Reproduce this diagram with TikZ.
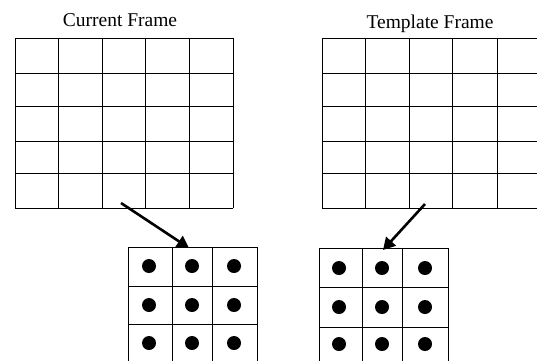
\documentclass[tikz,border=0pt]{standalone}
\usepackage{fontspec}
\setmainfont{Liberation Serif}
\usetikzlibrary{arrows.meta}
\begin{document}
\begin{tikzpicture}[x=1pt,y=-1pt,
  gridline/.style={line width=1pt,black},
  dot/.style={circle,fill=black,inner sep=0pt,minimum size=14pt},
  title/.style={font=\fontsize{19.5}{21}\selectfont,inner sep=0pt},
  pointer/.style={line width=2.6pt,-{Triangle[length=12pt,width=13pt]}}]
\useasboundingbox (0,0) rectangle (537,360);
\clip (0,0) rectangle (537,360);
\fill[white] (0,0) rectangle (537,360);
% titles
\node[title] (t1) at (120,20) {Current Frame};
\node[title] (t2) at (430,24) {Template Frame};
% big left grid
\foreach \x in {15,58,102,145,189,233} \draw[gridline] (\x,38) -- (\x,208);
\foreach \y in {38,73,106,141,173,208} \draw[gridline] (15,\y) -- (233,\y);
% big right grid
\foreach \x in {322,365,409,452,497,540} \draw[gridline] (\x,38) -- (\x,208);
\foreach \y in {38,73,106,141,173,208} \draw[gridline] (322,\y) -- (540,\y);
% small left grid
\foreach \x in {128,172,212,257} \draw[gridline] (\x,247) -- (\x,365);
\foreach \y in {247,286,324,363} \draw[gridline] (128,\y) -- (257,\y);
\foreach \x [count=\i] in {149,192,234}
  \foreach \y [count=\j] in {266,305,343}
    \node[dot] (a\i\j) at (\x,\y) {};
% small right grid
\foreach \x in {319,362,402,448} \draw[gridline] (\x,248) -- (\x,365);
\foreach \y in {248,287,327,366} \draw[gridline] (319,\y) -- (448,\y);
\foreach \x [count=\i] in {339,382,425}
  \foreach \y [count=\j] in {268,307,344}
    \node[dot] (b\i\j) at (\x,\y) {};
% arrows
\coordinate (s1) at (121,203);
\coordinate (e1) at (189,248);
\coordinate (s2) at (425,204);
\coordinate (e2) at (383,250);
\draw[pointer] (s1) -- (e1);
\draw[pointer] (s2) -- (e2);
\end{tikzpicture}
\end{document}
